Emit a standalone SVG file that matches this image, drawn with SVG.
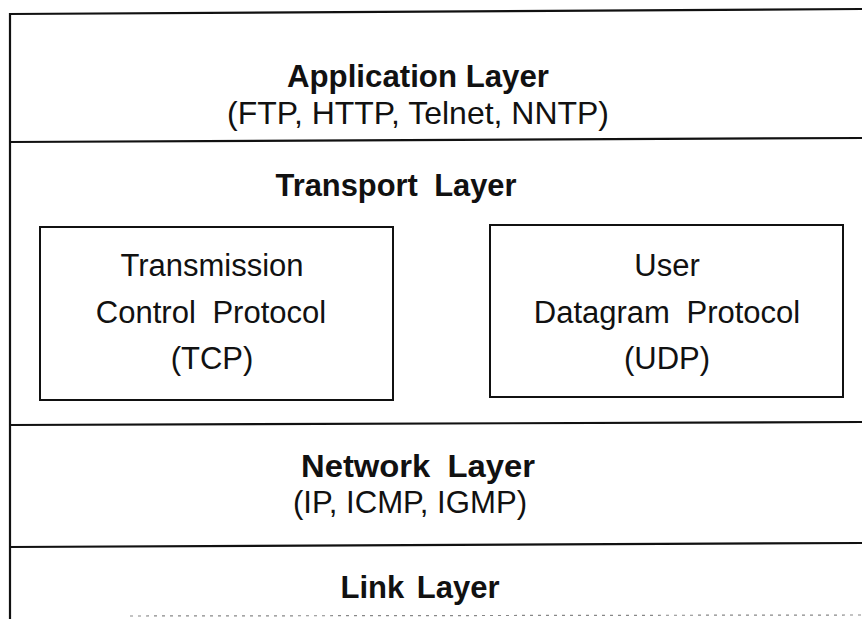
<svg xmlns="http://www.w3.org/2000/svg" width="862" height="619" viewBox="0 0 862 619">
  <style>
    .rule { stroke: #111; stroke-width: 2.2; fill: none; }
    .box { stroke: #111; stroke-width: 2; fill: none; }
    .title { font-family: "Liberation Sans", Arial, sans-serif; font-weight: bold; font-size: 32px; fill: #111; text-anchor: middle; }
    .sub { font-family: "Liberation Sans", Arial, sans-serif; font-size: 32px; fill: #111; text-anchor: middle; }
    .proto { font-family: "Liberation Sans", Arial, sans-serif; font-size: 31px; fill: #111; text-anchor: middle; }
    .faint { stroke: #888; stroke-width: 1.2; stroke-dasharray: 3 5; fill: none; }
  </style>
  <rect width="862" height="619" fill="#fff"/>

  <!-- frame: left edge and layer separators -->
  <g id="frame">
    <line class="rule" x1="10" y1="13" x2="10" y2="619"/>
    <line class="rule" x1="10" y1="14" x2="862" y2="9"/>
    <line class="rule" x1="10" y1="142" x2="862" y2="138"/>
    <line class="rule" x1="10" y1="425" x2="862" y2="422"/>
    <line class="rule" x1="10" y1="547" x2="862" y2="543"/>
    <line class="faint" x1="130" y1="616" x2="862" y2="615"/>
  </g>

  <g id="application-layer">
    <text class="title" x="418" y="87" textLength="262" lengthAdjust="spacingAndGlyphs">Application Layer</text>
    <text class="sub" x="418" y="124" textLength="382" lengthAdjust="spacingAndGlyphs">(FTP, HTTP, Telnet, NNTP)</text>
  </g>

  <g id="transport-layer">
    <text class="title" x="396" y="196" word-spacing="8" textLength="241" lengthAdjust="spacingAndGlyphs">Transport Layer</text>
  </g>

  <g id="tcp">
    <rect class="box" x="40" y="227" width="353" height="173"/>
    <text class="proto" x="212" y="276">Transmission</text>
    <text class="proto" x="211" y="323" word-spacing="8">Control Protocol</text>
    <text class="proto" x="212" y="369">(TCP)</text>
  </g>

  <g id="udp">
    <rect class="box" x="490" y="225" width="353" height="172"/>
    <text class="proto" x="667" y="276">User</text>
    <text class="proto" x="667" y="323" word-spacing="8">Datagram Protocol</text>
    <text class="proto" x="667" y="369">(UDP)</text>
  </g>

  <g id="network-layer">
    <text class="title" x="418" y="477" word-spacing="8" textLength="234" lengthAdjust="spacingAndGlyphs">Network Layer</text>
    <text class="sub" x="410" y="513" textLength="234" lengthAdjust="spacingAndGlyphs">(IP, ICMP, IGMP)</text>
  </g>

  <g id="link-layer">
    <text class="title" x="420" y="598" word-spacing="4" textLength="159" lengthAdjust="spacingAndGlyphs">Link Layer</text>
  </g>
</svg>
